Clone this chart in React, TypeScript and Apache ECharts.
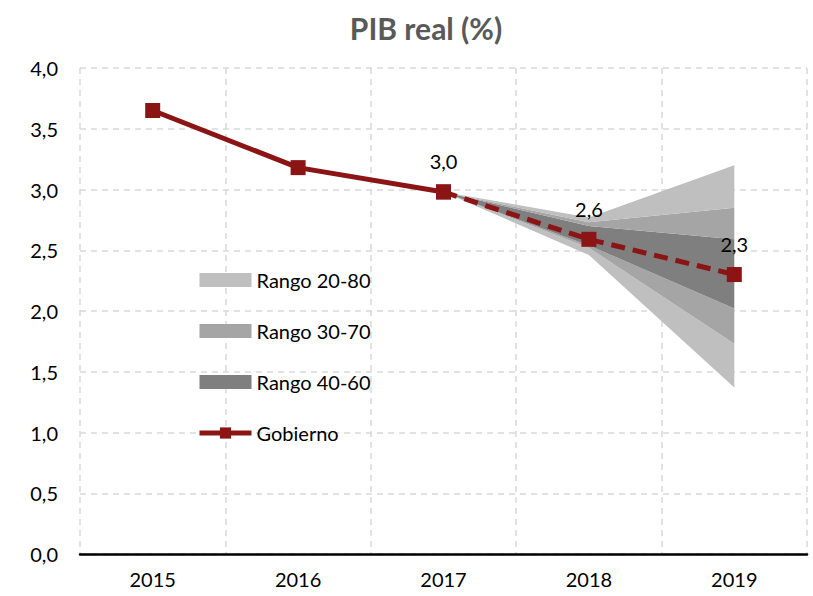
import React, { useEffect, useRef } from "react";
import * as echarts from "echarts";

const years = ["2015", "2016", "2017", "2018", "2019"];
const gobiernoReal = [3.65, 3.18, 2.98, null, null];
const gobiernoProy = [null, null, 2.98, 2.59, 2.3];
const labelYearsReal = ["2017"];
const labelYearsProy = ["2018", "2019"];
const r2080Lower = [null, null, 2.98, 2.46, 1.37];
const r3070Lower = [null, null, 2.98, 2.52, 1.73];
const r4060Lower = [null, null, 2.98, 2.54, 2.02];
const r4060Upper = [null, null, 2.98, 2.7, 2.59];
const r3070Upper = [null, null, 2.98, 2.73, 2.85];
const r2080Upper = [null, null, 2.98, 2.77, 3.2];

const FONT = "Lato";
const RED = "#8b1515";
const LIGHT = "#bfbfbf";
const MED = "#a5a5a5";
const DARK = "#7f7f7f";

function diff(a: (number | null)[], b: (number | null)[]) {
  return a.map((v, i) => (v == null || b[i] == null ? "-" : +(v - (b[i] as number)).toFixed(3)));
}

export default function App() {
  const ref = useRef<HTMLDivElement>(null);
  useEffect(() => {
    if (!ref.current) return;
    const chart = echarts.init(ref.current, undefined, { renderer: "svg" });
    const band = (name: string, data: any[], color: string) => ({
      name,
      type: "line",
      stack: "fan",
      data,
      symbol: "none",
      lineStyle: { width: 0, color },
      itemStyle: { color },
      areaStyle: { color, opacity: 1 },
      z: 1,
    });
    const lbl = (arr: (number | null)[], show: string[]) =>
      arr.map((v, i) =>
        v == null ? "-" : show.includes(years[i]) ? { value: v, label: { show: true } } : v
      );
    const labelStyle = {
      show: false,
      position: "top",
      distance: 13,
      fontFamily: FONT,
      fontSize: 20,
      color: "#000",
      formatter: (p: any) => Number(p.value).toFixed(1).replace(".", ","),
    };
    chart.setOption({
      animation: false,
      title: {
        text: "PIB real (%)",
        left: 421,
        textAlign: "center",
        top: 8,
        textStyle: { fontFamily: FONT, fontSize: 30, fontWeight: "bold", color: "#595959" },
      },
      grid: { left: 80, right: 6, top: 68, bottom: 42 },
      legend: {
        orient: "vertical",
        left: 197,
        top: 270,
        padding: 0,
        itemWidth: 52,
        itemHeight: 14,
        itemGap: 31,
        textStyle: { fontFamily: FONT, fontSize: 20, lineHeight: 20, color: "#000" },
        data: [
          { name: "Rango 20-80", icon: "rect", itemStyle: { color: LIGHT } },
          { name: "Rango 30-70", icon: "rect", itemStyle: { color: MED } },
          { name: "Rango 40-60", icon: "rect", itemStyle: { color: DARK } },
          { name: "Gobierno", lineStyle: { width: 5, color: RED }, itemStyle: { color: RED } },
        ],
      },
      xAxis: {
        type: "category",
        data: years,
        boundaryGap: true,
        axisLine: { lineStyle: { color: "#000", width: 2.5 } },
        axisTick: { show: false },
        axisLabel: { fontFamily: FONT, fontSize: 20, color: "#000", margin: 15 },
        splitLine: { show: true, lineStyle: { color: "#d9d9d9", type: [6, 5], width: 1.5 } },
      },
      yAxis: {
        type: "value",
        min: 0,
        max: 4,
        interval: 0.5,
        axisLine: { show: false },
        axisTick: { show: false },
        axisLabel: {
          fontFamily: FONT,
          fontSize: 20,
          color: "#000",
          margin: 22,
          formatter: (v: number) => v.toFixed(1).replace(".", ","),
        },
        splitLine: { lineStyle: { color: "#d9d9d9", type: [6, 5], width: 1.5 } },
      },
      series: [
        {
          name: "base",
          type: "line",
          stack: "fan",
          data: r2080Lower.map((v) => (v == null ? "-" : v)),
          symbol: "none",
          lineStyle: { width: 0 },
          z: 1,
        },
        band("Rango 20-80", diff(r3070Lower, r2080Lower), LIGHT),
        band("Rango 30-70", diff(r4060Lower, r3070Lower), MED),
        band("Rango 40-60", diff(r4060Upper, r4060Lower), DARK),
        band("Rango 30-70", diff(r3070Upper, r4060Upper), MED),
        band("Rango 20-80", diff(r2080Upper, r3070Upper), LIGHT),
        {
          name: "Gobierno",
          type: "line",
          data: lbl(gobiernoReal, labelYearsReal),
          symbol: "rect",
          symbolSize: 15,
          lineStyle: { color: RED, width: 5 },
          itemStyle: { color: RED },
          label: labelStyle,
          z: 5,
        },
        {
          name: "Gobierno",
          type: "line",
          data: lbl(gobiernoProy, labelYearsProy),
          symbol: "rect",
          symbolSize: 15,
          lineStyle: { color: RED, width: 5, type: [14, 8] },
          itemStyle: { color: RED },
          label: labelStyle,
          z: 5,
        },
      ],
    });
    return () => chart.dispose();
  }, []);
  return (
    <div
      ref={ref}
      style={{ position: "fixed", left: 0, top: 0, width: 813, height: 596, background: "#fff" }}
    />
  );
}
